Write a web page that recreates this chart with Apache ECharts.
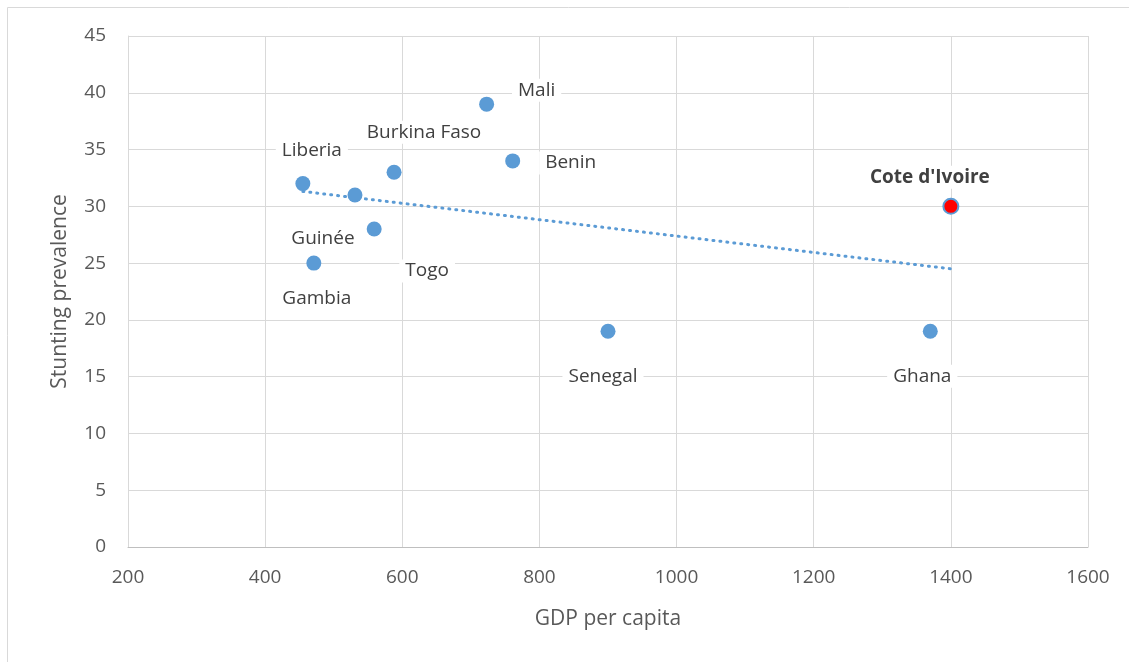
<!DOCTYPE html>
<html>
<head>
<meta charset="utf-8">
<script src="https://cdn.jsdelivr.net/npm/echarts@6/dist/echarts.min.js"></script>
<style>html,body{margin:0;padding:0;background:#fff;}#c{width:1129px;height:662px;}</style>
</head>
<body>
<div id="c"></div>
<script>
const countries = ["Liberia","Gambia","Guinée","Togo","Burkina Faso","Mali","Benin","Senegal","Ghana","Cote d'Ivoire"];
const gdp = [455, 471, 531, 559, 588, 723, 761, 900, 1370, 1400];
const stunting = [32, 25, 31, 28, 33, 39, 34, 19, 19, 30];
const labelOffsets = [[9,-33],[3,35],[-32,44],[53,42],[30,-40],[50,-14],[58,2],[-5,45],[-8,45],[-20,-28]];
const highlight = "Cote d'Ivoire";
const xTicks = [200,400,600,800,1000,1200,1400,1600];
const yTicks = [0,5,10,15,20,25,30,35,40,45];

// linear regression trendline
const n = gdp.length;
const mx = gdp.reduce((a,b)=>a+b,0)/n;
const my = stunting.reduce((a,b)=>a+b,0)/n;
let sxy=0, sxx=0;
for(let i=0;i<n;i++){sxy+=(gdp[i]-mx)*(stunting[i]-my);sxx+=(gdp[i]-mx)**2;}
const slope = sxy/sxx, icpt = my - slope*mx;
const xmin = Math.min(...gdp), xmax = Math.max(...gdp);
const trend = [[xmin, icpt+slope*xmin],[xmax, icpt+slope*xmax]];

const SYM = 15;
const font = "'Open Sans', 'Liberation Sans', sans-serif";
const pts = gdp.map((x,i)=>{
  const hl = countries[i]===highlight;
  return {
    value:[x, stunting[i]], name: countries[i],
    itemStyle: hl ? {color:'#ff0000', borderColor:'#5b9bd5', borderWidth:2} : undefined,
    label:{show:true, position:[SYM/2+labelOffsets[i][0], SYM/2+labelOffsets[i][1]],
      align:'center', verticalAlign:'middle', formatter: countries[i],
      color:'#404040', fontWeight: hl ? 'bold':'normal',
      fontSize:19, fontFamily:font, backgroundColor:'#ffffff', padding:[2,6]}
  };
});

const chart = echarts.init(document.getElementById('c'), null, {renderer:'canvas'});
chart.setOption({
  animation:false,
  graphic:[{type:'rect', shape:{x:7.5,y:7.5,width:1200,height:700}, style:{fill:'none', stroke:'#d9d9d9', lineWidth:1}, silent:true, z:-10}],
  grid:{left:128, right:41, top:36, bottom:115},
  xAxis:{type:'value', min:200, max:1600, interval:200,
    name:'GDP per capita', nameLocation:'middle', nameGap:62,
    nameTextStyle:{fontSize:21, color:'#595959', fontFamily:font},
    axisLine:{show:true, lineStyle:{color:'#bfbfbf'}}, axisTick:{show:false},
    axisLabel:{fontSize:19, color:'#595959', fontFamily:font, margin:21, formatter:v=>String(v)},
    splitLine:{show:true, lineStyle:{color:'#d9d9d9', width:1}}},
  yAxis:{type:'value', min:0, max:45, interval:5,
    name:'Stunting prevalence', nameLocation:'middle', nameGap:57,
    nameTextStyle:{fontSize:21, color:'#595959', fontFamily:font},
    axisLine:{show:true, lineStyle:{color:'#d9d9d9'}}, axisTick:{show:false},
    axisLabel:{fontSize:19, color:'#595959', fontFamily:font, margin:22},
    splitLine:{show:true, lineStyle:{color:'#d9d9d9', width:1}}},
  series:[
    {type:'line', data:trend, symbol:'none', z:3,
      lineStyle:{color:'#5b9bd5', width:3, type:[1,6], cap:'round'}, silent:true},
    {type:'scatter', data:pts, symbolSize:SYM, z:4,
      itemStyle:{color:'#5b9bd5', opacity:1}, labelLayout:{hideOverlap:false}}
  ]
});
</script>
</body>
</html>
